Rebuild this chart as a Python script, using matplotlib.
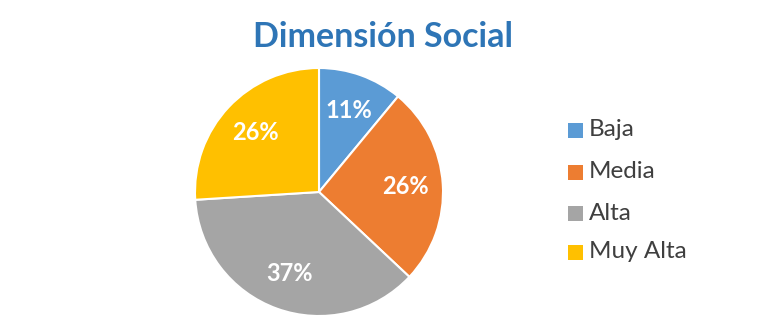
import numpy as np
import matplotlib.pyplot as plt
from matplotlib.patches import Rectangle

# Dimensión Social - distribution by level
categories = ["Baja", "Media", "Alta", "Muy Alta"]
values = [11, 26, 37, 26]
colors = ["#5B9BD5", "#ED7D31", "#A5A5A5", "#FFC000"]

W, H = 757, 322
fig = plt.figure(figsize=(W / 100, H / 100), dpi=100)
fig.patch.set_facecolor("white")

# pie centered at (319, 192) px, radius 124 px
cx, cy, r = 319, 192, 124
ax = fig.add_axes([(cx - r) / W, (H - cy - r) / H, 2 * r / W, 2 * r / H])

wedges, _ = ax.pie(
    values,
    colors=colors,
    startangle=90,
    counterclock=False,
    wedgeprops=dict(edgecolor="white", linewidth=1.5),
)
ax.set_xlim(-1, 1)
ax.set_ylim(-1, 1)
ax.set_aspect("equal")
ax.axis("off")

# percentage labels at 0.7 of the radius
angle = 90.0
for v in values:
    sweep = v / sum(values) * 360
    mid = np.deg2rad(angle - sweep / 2)
    ax.text(0.7 * np.cos(mid), 0.7 * np.sin(mid), f"{v}%",
            ha="center", va="center", color="white",
            fontsize=17, fontweight="bold", family="Lato")
    angle -= sweep

fig.text(383 / W, 1 - 37 / H, "Dimensión Social", ha="center", va="center",
         color="#2E75B6", fontsize=24.5, fontweight="bold", family="Lato")

# legend drawn by hand
leg_y = [130, 172, 213, 252]
for lab, col, y in zip(categories, colors, leg_y):
    fig.patches.append(Rectangle((568 / W, 1 - (y + 7.5) / H), 15 / W, 15 / H,
                                 transform=fig.transFigure, facecolor=col,
                                 edgecolor="none"))
    fig.text(589 / W, 1 - y / H, lab, ha="left", va="center",
             color="#3F3F3F", fontsize=17.5, family="Lato")

fig.savefig("out.png", dpi=100, facecolor="white")
